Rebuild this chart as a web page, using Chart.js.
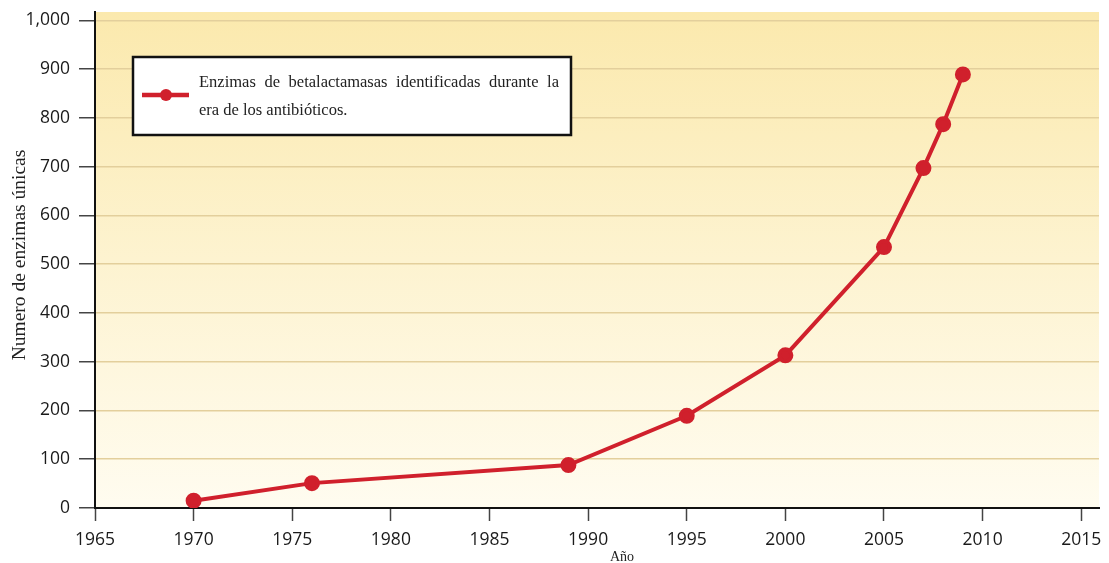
<!DOCTYPE html>
<html>
<head>
<meta charset="utf-8">
<script src="https://cdn.jsdelivr.net/npm/chart.js@4/dist/chart.umd.min.js"></script>
<style>
  html, body { margin: 0; padding: 0; background: #fff; }
  #wrap { width: 1109px; height: 563px; }
</style>
</head>
<body>
<div id="wrap"><canvas id="chart"></canvas></div>
<script>
const years = [1970, 1976, 1989, 1995, 2000, 2005, 2007, 2008, 2009];
const enzymes = [15, 51, 88, 189, 313, 535, 697, 787, 889];
const xTicks = [1965, 1970, 1975, 1980, 1985, 1990, 1995, 2000, 2005, 2010, 2015];
const yTicks = [0, 100, 200, 300, 400, 500, 600, 700, 800, 900, 1000];
const seriesLabel = ["Enzimas de betalactamasas identificadas durante la", "era de los antibióticos."];
const xTitle = "Año";
const yTitle = "Numero de enzimas únicas";

const red = "#d0202c";
const serif = "'Liberation Serif', 'Times New Roman', serif";
const sans = "'Open Sans', 'Noto Sans', sans-serif";

const bgPlugin = {
  id: "bg",
  beforeDraw(chart) {
    const { ctx, chartArea: a } = chart;
    const g = ctx.createLinearGradient(0, a.top, 0, a.bottom);
    g.addColorStop(0, "#fbe9ad");
    g.addColorStop(0.5, "#fdf3d0");
    g.addColorStop(1, "#fffcf0");
    ctx.save();
    ctx.fillStyle = g;
    ctx.fillRect(a.left, a.top, a.right - a.left, a.bottom - a.top);
    ctx.restore();
  }
};

const extrasPlugin = {
  id: "extras",
  afterDraw(chart) {
    const { ctx } = chart;
    ctx.save();
    // legend box
    ctx.fillStyle = "#fff";
    ctx.fillRect(133, 57, 438, 78);
    ctx.strokeStyle = "#111";
    ctx.lineWidth = 2.5;
    ctx.strokeRect(133, 57, 438, 78);
    ctx.strokeStyle = red;
    ctx.lineWidth = 4.5;
    ctx.beginPath();
    ctx.moveTo(142, 95);
    ctx.lineTo(189, 95);
    ctx.stroke();
    ctx.fillStyle = red;
    ctx.beginPath();
    ctx.arc(166, 95, 6, 0, Math.PI * 2);
    ctx.fill();

    // legend text, first line justified
    ctx.fillStyle = "#222";
    ctx.font = "16.5px " + serif;
    ctx.textBaseline = "alphabetic";
    ctx.textAlign = "left";
    const words = seriesLabel[0].split(" ");
    const widths = words.map(w => ctx.measureText(w).width);
    const total = widths.reduce((s, w) => s + w, 0);
    const gap = (559 - 199 - total) / (words.length - 1);
    let x = 199;
    words.forEach((w, i) => {
      ctx.fillText(w, x, 87);
      x += widths[i] + gap;
    });
    ctx.fillText(seriesLabel[1], 199, 115);

    // axis titles
    ctx.font = "14px " + serif;
    ctx.textAlign = "center";
    ctx.fillText(xTitle, 622, 561);
    ctx.translate(25, 255);
    ctx.rotate(-Math.PI / 2);
    ctx.font = "19.5px " + serif;
    ctx.fillText(yTitle, 0, 0);
    ctx.restore();
  }
};

new Chart(document.getElementById("chart"), {
  type: "line",
  data: {
    datasets: [
      {
        label: seriesLabel.join(" "),
        data: years.map((y, i) => ({ x: y, y: enzymes[i] })),
        borderColor: red,
        backgroundColor: red,
        borderWidth: 4,
        pointRadius: 6,
        pointHoverRadius: 6,
        tension: 0,
      },
    ],
  },
  options: {
    responsive: true,
    maintainAspectRatio: false,
    animation: false,
    layout: { padding: { top: 12, right: 9, left: 0, bottom: 0 } },
    plugins: {
      legend: { display: false },
      tooltip: { enabled: false },
    },
    scales: {
      x: {
        type: "linear",
        min: 1965,
        max: 2015.9,
        afterBuildTicks: (axis) => {
          axis.ticks = xTicks.map((v) => ({ value: v }));
        },
        afterFit: (s) => {
          s.height = 55;
          s.paddingLeft = 0;
          s.paddingRight = 0;
        },
        ticks: {
          color: "#1a1a1a",
          font: { family: sans, size: 17.5 },
          padding: 9,
          maxRotation: 0,
          autoSkip: false,
          callback: (v) => String(v),
        },
        grid: {
          drawOnChartArea: false,
          drawTicks: true,
          tickLength: 13,
          tickColor: "#444",
          tickWidth: 1.5,
        },
        border: { color: "#111", width: 2 },
      },
      y: {
        min: 0,
        max: 1017,
        afterBuildTicks: (axis) => {
          axis.ticks = yTicks.map((v) => ({ value: v }));
        },
        afterFit: (s) => {
          s.width = 95;
          s.paddingTop = 0;
          s.paddingBottom = 0;
        },
        ticks: {
          color: "#1a1a1a",
          font: { family: sans, size: 17.5 },
          padding: 9,
          autoSkip: false,
          callback: (v) => v.toLocaleString("en-US"),
        },
        grid: {
          color: "#e3cf9c",
          lineWidth: 1.5,
          tickLength: 16,
          tickColor: "#444",
          tickWidth: 1.5,
        },
        border: { color: "#111", width: 2 },
      },
    },
  },
  plugins: [bgPlugin, extrasPlugin],
});
</script>
</body>
</html>
